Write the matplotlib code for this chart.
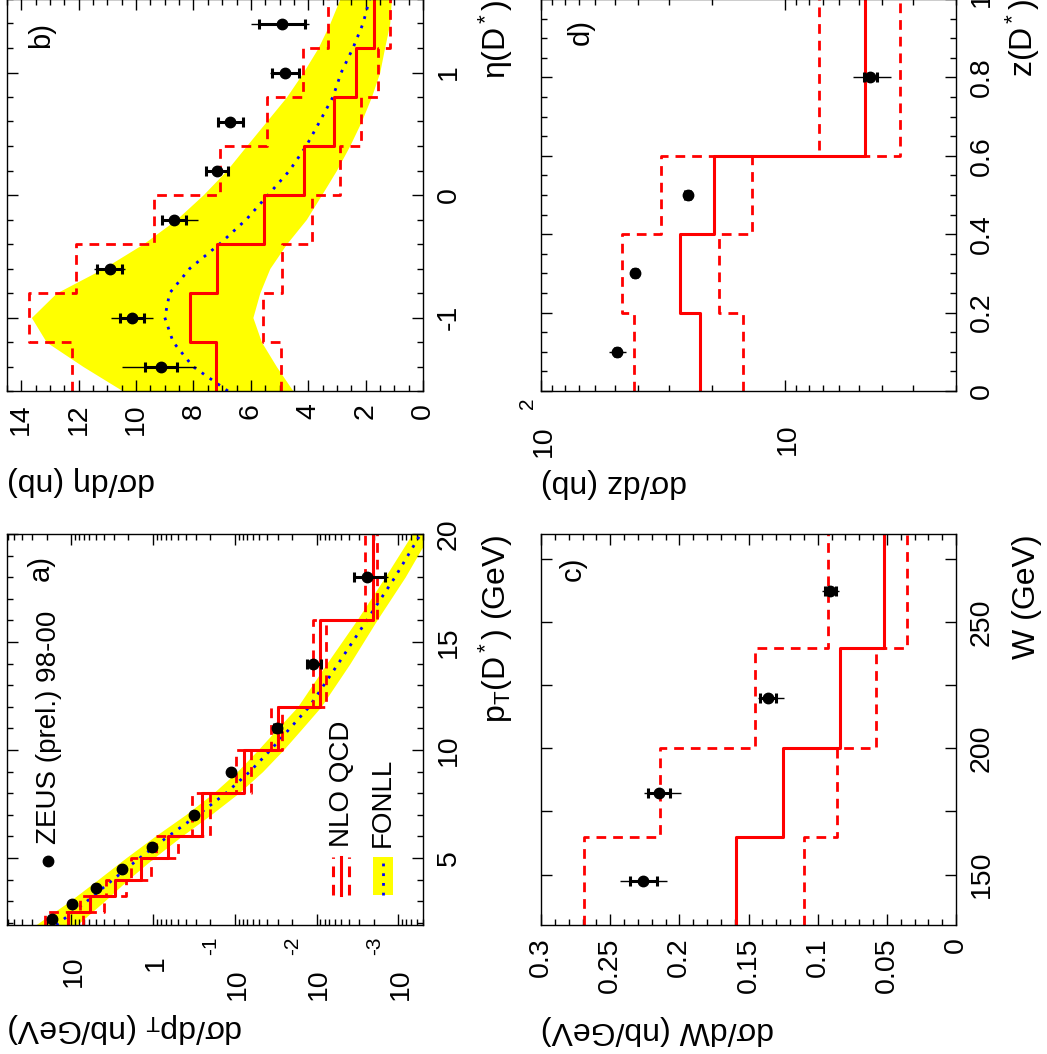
import numpy as np
import matplotlib
matplotlib.use("Agg")
import matplotlib.pyplot as plt
import matplotlib.transforms as mtransforms
from matplotlib.patches import Rectangle
from matplotlib.ticker import MultipleLocator, LogLocator, FuncFormatter, NullFormatter

plt.rcParams["font.family"] = ["Liberation Sans", "DejaVu Sans"]
plt.rcParams["mathtext.fontset"] = "custom"
plt.rcParams["mathtext.rm"] = "Liberation Sans"
plt.rcParams["mathtext.it"] = "Liberation Sans:italic"
plt.rcParams["mathtext.bf"] = "Liberation Sans:bold"
plt.rcParams["mathtext.default"] = "rm"
plt.rcParams["axes.unicode_minus"] = False

RED, YEL, BLU = "#ff0000", "#ffff00", "#0000ff"

# a) d sigma / d pT
pt_edges = [1.9, 2.5, 3.25, 4, 5, 6, 8, 10, 12, 16, 20]
pt_mid = [2.2, 2.875, 3.625, 4.5, 5.5, 7, 9, 11, 14, 18]
pt_data = [17.3, 9.7, 4.94, 2.42, 1.02, 0.315, 0.112, 0.0306, 0.0110, 0.00244]
pt_stat = [0.5, 0.25, 0.12, 0.06, 0.025, 0.008, 0.003, 0.0030, 0.0022, 0.0010]
pt_tot = [1.3, 0.7, 0.33, 0.16, 0.07, 0.022, 0.008, 0.0040, 0.0024, 0.0011]
pt_nlo = [11.0, 5.97, 2.94, 1.39, 0.655, 0.249, 0.0769, 0.0294, 0.0091, 0.00202]
pt_nlo_up = [20.8, 7.9, 3.73, 1.84, 0.91, 0.33, 0.0973, 0.0356, 0.011, 0.00256]
pt_nlo_dn = [7.19, 4.02, 2.16, 1.05, 0.494, 0.199, 0.0637, 0.0268, 0.00769, 0.00184]
fonll_pt = [1.9, 3, 4, 5, 6, 7, 8, 9, 10, 11, 12, 14, 16, 18, 20]
fonll_pt_c = [15.27, 6.43, 3.09, 1.457, 0.655, 0.281, 0.1289, 0.0655, 0.0366, 0.0212,
              0.0123, 0.00543, 0.00244, 0.00110, 0.000533]
fonll_pt_hi = [27.3, 10.48, 4.72, 2.16, 0.954, 0.402, 0.184, 0.0936, 0.0523, 0.0300,
               0.0171, 0.00754, 0.00324, 0.00146, 0.000680]
fonll_pt_lo = [8.52, 3.94, 2.02, 0.981, 0.450, 0.197, 0.0902, 0.0458, 0.0256, 0.0150,
               0.00885, 0.00391, 0.00184, 0.000829, 0.000410]
pt_decades = [10, 1, 0.1, 0.01, 0.001]
pt_dec_base = ["10", "1", "10", "10", "10"]
pt_dec_exp = ["", "", "-1", "-2", "-3"]

# b) d sigma / d eta
eta_edges = [-1.6, -1.2, -0.8, -0.4, 0, 0.4, 0.8, 1.2, 1.6]
eta_mid = [-1.4, -1.0, -0.6, -0.2, 0.2, 0.6, 1.0, 1.4]
eta_data = [9.13, 10.13, 10.92, 8.69, 7.18, 6.72, 4.80, 4.91]
eta_stat = [0.55, 0.42, 0.44, 0.42, 0.39, 0.44, 0.47, 0.80]
eta_tot_lo = [1.23, 0.73, 0.55, 0.86, 0.40, 0.44, 0.52, 0.95]
eta_tot_hi = [1.35, 0.73, 0.55, 0.44, 0.40, 0.44, 0.52, 1.07]
eta_nlo = [7.23, 8.11, 7.18, 5.55, 4.16, 3.11, 2.32, 1.72]
eta_nlo_up = [12.23, 13.74, 12.08, 9.39, 7.09, 5.43, 4.18, 3.31]
eta_nlo_dn = [4.94, 5.58, 4.90, 3.86, 2.90, 2.15, 1.57, 1.14]
fonll_eta = [-1.6, -1.4, -1.2, -1.0, -0.8, -0.6, -0.4, -0.2, 0,
             0.2, 0.4, 0.6, 0.8, 1.0, 1.2, 1.4, 1.6]
fonll_eta_c = [6.80, 8.02, 8.71, 9.00, 8.83, 8.13, 7.09, 6.16, 5.40,
               4.65, 4.07, 3.60, 3.14, 2.85, 2.44, 2.09, 1.86]
fonll_eta_hi = [10.46, 11.85, 13.13, 13.65, 12.78, 11.15, 9.76, 8.60, 7.67,
                6.85, 6.16, 5.46, 4.76, 4.18, 3.66, 3.25, 2.90]
fonll_eta_lo = [4.53, 5.11, 5.63, 5.93, 5.69, 5.34, 4.76, 4.07, 3.54,
                3.02, 2.56, 2.15, 1.80, 1.51, 1.34, 1.16, 1.10]

# c) d sigma / d W
w_edges = [130, 165, 200, 240, 285]
w_mid = [147.5, 182.5, 220, 262.5]
w_data = [0.226, 0.2146, 0.1358, 0.0909]
w_stat = [0.0095, 0.008, 0.006, 0.004]
w_tot_lo = [0.0172, 0.0157, 0.0116, 0.006]
w_tot_hi = [0.0172, 0.011, 0.0073, 0.006]
w_nlo = [0.159, 0.125, 0.0837, 0.0521]
w_nlo_up = [0.269, 0.214, 0.1455, 0.0922]
w_nlo_dn = [0.110, 0.0861, 0.0577, 0.0352]

# d) d sigma / d z
z_edges = [0, 0.2, 0.4, 0.6, 1.0]
z_mid = [0.1, 0.3, 0.5, 0.8]
z_data = [48.9, 41.2, 25.1, 4.49]
z_stat = [1.0, 0.8, 0.6, 0.28]
z_tot = [3.9, 1.5, 1.0, 0.8]
z_nlo = [22.4, 27.1, 19.6, 4.71]
z_nlo_up = [41.6, 46.4, 32.3, 7.28]
z_nlo_dn = [14.9, 18.7, 13.7, 3.40]
z_decades = [100, 10]
z_dec_base = ["10", "10"]
z_dec_exp = ["2", ""]

FW, FH = 1047, 1054
fig = plt.figure(figsize=(FW / 100, FH / 100), dpi=100)


def panel(x0, y0, x1, y1):
    return fig.add_axes([x0 / FW, 1 - y1 / FH, (x1 - x0) / FW, (y1 - y0) / FH])


def steps(ax, edges, vals, **kw):
    ax.plot(np.repeat(vals, 2), np.repeat(edges, 2)[1:-1], **kw)


def nlo(ax, edges, c, up, dn):
    steps(ax, edges, up, color=RED, lw=2.0, dashes=(3.5, 2.5))
    steps(ax, edges, dn, color=RED, lw=2.0, dashes=(3.5, 2.5))
    steps(ax, edges, c, color=RED, lw=2.2)


def points(ax, mid, val, stat, tot):
    ax.errorbar(val, mid, xerr=tot, fmt="none", ecolor="k", elinewidth=1.0, capsize=0, zorder=5)
    ax.errorbar(val, mid, xerr=stat, fmt="none", ecolor="k", elinewidth=2.2,
                capsize=3.5, capthick=2.2, zorder=5)
    ax.plot(val, mid, "o", color="k", ms=7.5, zorder=6)


def style(ax, bottom_labels=True):
    ax.tick_params(which="both", direction="in", top=True, bottom=True, left=True, right=True,
                   labelleft=False, labelright=True, labelbottom=bottom_labels,
                   labelsize=20.5, width=1.0, pad=9)
    ax.tick_params(which="major", length=8)
    ax.tick_params(which="minor", length=4.5)
    ax.tick_params(axis="x", labelrotation=90)
    ax.tick_params(axis="y", labelrotation=90)
    for s in ax.spines.values():
        s.set_linewidth(1.0)


def fix_labels(ax):
    for lb in ax.get_yticklabels():
        lb.set_verticalalignment("center")
        lb.set_horizontalalignment("left")


def log_labels(ax, vals, bases, exps, base_off, exp_off, plain_off, exp_dx):
    tr = mtransforms.blended_transform_factory(ax.transData, ax.transAxes)
    for v, b, e in zip(vals, bases, exps):
        if e:
            t1 = mtransforms.offset_copy(tr, fig=fig, x=2, y=-base_off, units="points")
            ax.text(v, 0, b, transform=t1, rotation=90, ha="center", va="top", fontsize=20.5)
            t2 = mtransforms.offset_copy(tr, fig=fig, x=exp_dx, y=-exp_off, units="points")
            ax.text(v, 0, e, transform=t2, rotation=90, ha="center", va="top", fontsize=15)
        else:
            t1 = mtransforms.offset_copy(tr, fig=fig, x=2, y=-plain_off, units="points")
            ax.text(v, 0, b, transform=t1, rotation=90, ha="center", va="top", fontsize=20.5)


def titles(ax, xtitle, ytitle, xpos, ypos):
    ax.text(xpos, 1.0, xtitle, transform=ax.transAxes, rotation=90, ha="right", va="top", fontsize=23)
    ax.text(0.0, ypos, ytitle, transform=ax.transAxes, rotation=180, ha="left", va="center", fontsize=23)


fmt_g = FuncFormatter(lambda v, p: f"{v:g}")

# ---------------- a) ----------------
axA = panel(7, 534, 423, 925)
axA.set_xscale("log")
axA.fill_betweenx(fonll_pt, fonll_pt_lo, fonll_pt_hi, color=YEL, lw=0)
axA.plot(fonll_pt_c, fonll_pt, color=BLU, lw=2, ls=(0, (1, 2.5)))
nlo(axA, pt_edges, pt_nlo, pt_nlo_up, pt_nlo_dn)
points(axA, pt_mid, pt_data, pt_stat, pt_tot)
axA.set_xlim(61, 5e-4)
axA.set_ylim(1.9, 20)
axA.xaxis.set_major_locator(LogLocator(base=10, numticks=20))
axA.xaxis.set_minor_locator(LogLocator(base=10, subs=np.arange(2, 10), numticks=20))
axA.xaxis.set_major_formatter(NullFormatter())
axA.xaxis.set_minor_formatter(NullFormatter())
axA.yaxis.set_major_locator(MultipleLocator(5))
axA.yaxis.set_minor_locator(MultipleLocator(1))
style(axA, bottom_labels=False)
fix_labels(axA)
log_labels(axA, pt_decades, pt_dec_base, pt_dec_exp, 31, 8.6, 21.6, -17.3)
titles(axA, "p$_T$(D$^*$) (GeV)", "dσ/dp$_T$ (nb/GeV)", 1.221, -0.263)
axA.text(0.082, 0.946, "a)", transform=axA.transAxes, rotation=90, ha="center", va="top", fontsize=21)
axA.plot([0.0986], [0.164], "o", color="k", ms=7.5, transform=axA.transAxes)
axA.text(0.101, 0.207, "ZEUS (prel.) 98-00", transform=axA.transAxes, rotation=90,
         ha="center", va="bottom", fontsize=20)
for xf, dashed in ((0.784, True), (0.804, False), (0.823, True)):
    kw = {"dashes": (3.5, 2.5)} if dashed else {}
    axA.plot([xf, xf], [0.077, 0.174], color=RED, lw=2.2, transform=axA.transAxes, **kw)
axA.text(0.805, 0.199, "NLO QCD", transform=axA.transAxes, rotation=90, ha="center", va="bottom", fontsize=20)
axA.add_patch(Rectangle((0.880, 0.077), 0.048, 0.097, transform=axA.transAxes, color=YEL, lw=0))
axA.plot([0.904, 0.904], [0.077, 0.174], color=BLU, lw=2, ls=(0, (1, 2.5)), transform=axA.transAxes)
axA.text(0.904, 0.199, "FONLL", transform=axA.transAxes, rotation=90, ha="center", va="bottom", fontsize=20)

# ---------------- b) ----------------
axB = panel(7, -1, 423, 391)
axB.fill_betweenx(fonll_eta, fonll_eta_lo, fonll_eta_hi, color=YEL, lw=0)
axB.plot(fonll_eta_c, fonll_eta, color=BLU, lw=2, ls=(0, (1, 2.5)))
nlo(axB, eta_edges, eta_nlo, eta_nlo_up, eta_nlo_dn)
points(axB, eta_mid, eta_data, eta_stat, [eta_tot_lo, eta_tot_hi])
axB.set_xlim(14.5, 0)
axB.set_ylim(-1.6, 1.6)
axB.xaxis.set_major_locator(MultipleLocator(2))
axB.xaxis.set_minor_locator(MultipleLocator(0.5))
axB.xaxis.set_major_formatter(fmt_g)
axB.yaxis.set_major_locator(MultipleLocator(1))
axB.yaxis.set_minor_locator(MultipleLocator(0.2))
axB.yaxis.set_major_formatter(fmt_g)
style(axB)
fix_labels(axB)
titles(axB, "η(D$^*$)", "dσ/dη (nb)", 1.221, -0.230)
axB.text(0.082, 0.941, "b)", transform=axB.transAxes, rotation=90, ha="center", va="top", fontsize=21)

# ---------------- c) ----------------
axC = panel(541, 534, 956, 925)
nlo(axC, w_edges, w_nlo, w_nlo_up, w_nlo_dn)
points(axC, w_mid, w_data, w_stat, [w_tot_lo, w_tot_hi])
axC.set_xlim(0.3, 0)
axC.set_ylim(130, 285)
axC.xaxis.set_major_locator(MultipleLocator(0.05))
axC.xaxis.set_minor_locator(MultipleLocator(0.01))
axC.xaxis.set_major_formatter(fmt_g)
axC.yaxis.set_major_locator(MultipleLocator(50))
axC.yaxis.set_minor_locator(MultipleLocator(25))
axC.yaxis.set_major_formatter(fmt_g)
style(axC)
axC.tick_params(axis="y", which="minor", length=8)
fix_labels(axC)
titles(axC, "W (GeV)", "dσ/dW (nb/GeV)", 1.207, -0.269)
axC.text(0.077, 0.941, "c)", transform=axC.transAxes, rotation=90, ha="center", va="top", fontsize=21)

# ---------------- d) ----------------
axD = panel(541, -1, 956, 391)
axD.set_xscale("log")
nlo(axD, z_edges, z_nlo, z_nlo_up, z_nlo_dn)
points(axD, z_mid, z_data, z_stat, z_tot)
axD.set_xlim(100, 2)
axD.set_ylim(0, 1)
axD.xaxis.set_major_locator(LogLocator(base=10, numticks=20))
axD.xaxis.set_minor_locator(LogLocator(base=10, subs=np.arange(2, 10), numticks=20))
axD.xaxis.set_major_formatter(NullFormatter())
axD.xaxis.set_minor_formatter(NullFormatter())
axD.yaxis.set_major_locator(MultipleLocator(0.2))
axD.yaxis.set_minor_locator(MultipleLocator(0.05))
axD.yaxis.set_major_formatter(fmt_g)
style(axD, bottom_labels=False)
fix_labels(axD)
log_labels(axD, z_decades, z_dec_base, z_dec_exp, 24.5, 5, 23, -10)
titles(axD, "z(D$^*$)", "dσ/dz (nb)", 1.207, -0.235)
axD.text(0.096, 0.949, "d)", transform=axD.transAxes, rotation=90, ha="center", va="top", fontsize=21)

fig.savefig("out.png", dpi=100)
